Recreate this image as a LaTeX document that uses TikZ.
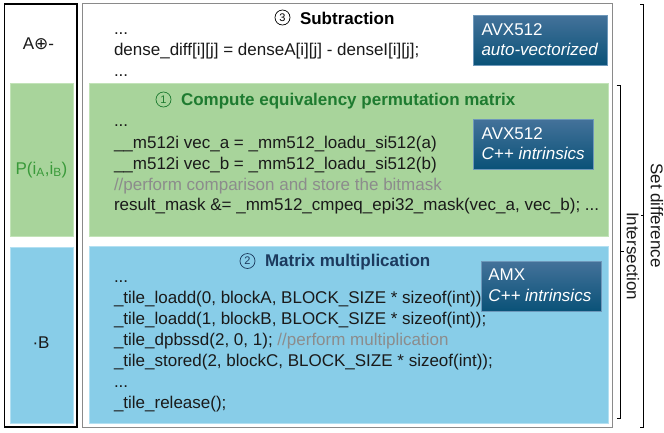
\documentclass[tikz,border=0pt]{standalone}
\usepackage{fontspec}
\setmainfont{Liberation Sans}
\newfontfamily\symfont{DejaVu Sans}
\usetikzlibrary{shadows}
\definecolor{gfill}{HTML}{A8D49B}
\definecolor{bfill}{HTML}{88CDE8}
\definecolor{gedge}{HTML}{C2E3B8}
\definecolor{bedge}{HTML}{B3E0F2}
\definecolor{ghead}{HTML}{1E7B30}
\definecolor{bhead}{HTML}{1C3A5E}
\definecolor{plabel}{HTML}{3A9A3A}
\definecolor{cmt}{HTML}{8C8C8C}
\definecolor{boxtop}{HTML}{44729A}
\definecolor{boxbot}{HTML}{0A5278}
\definecolor{boxedge}{HTML}{6E98BA}
\definecolor{panelgray}{HTML}{8A8A8A}
\definecolor{codetext}{HTML}{1A1A1A}
\begin{document}
\begin{tikzpicture}[x=1pt,y=-1pt,
  every node/.style={inner sep=0pt, outer sep=0pt, font=\fontsize{17}{20}\selectfont},
  code/.style={anchor=base west, text=codetext},
  comment/.style={anchor=base west, text=cmt},
  head/.style={anchor=base west, font=\fontsize{17}{20}\selectfont\bfseries},
  numcirc/.style={circle, draw, line width=0.7pt, minimum size=15pt, font=\fontsize{11}{11}\selectfont},
  lblbox/.style={draw=boxedge, line width=0.6pt, top color=boxtop, bottom color=boxbot,
    drop shadow={shadow xshift=1.3pt, shadow yshift=-1.3pt, opacity=0.35},
    anchor=north west, minimum width=#1, minimum height=50pt},
  lbltext/.style={anchor=base west, text=white},
  brk/.style={line width=1pt, black},
  sidelbl/.style={anchor=base, text=codetext}
]
\useasboundingbox (0,0) rectangle (664,432);
\fill[white] (0,0) rectangle (664,432);

% left panel
\draw[line width=1.2pt, black] (4.5,4) rectangle (77,427);
\fill[gfill] (10,83) rectangle (73,236);
\fill[bfill] (10,247) rectangle (73,423);
\draw[gedge, line width=0.6pt] (10,83) rectangle (73,236);
\draw[bedge, line width=0.6pt] (10,247) rectangle (73,423);
\node[sidelbl] (la) at (38.5,49) {A{\symfont ⊕}-};
\node[sidelbl, text=plabel] (lp) at (41.5,174) {P(i\textsubscript{A},i\textsubscript{B})};
\node[sidelbl] (lb) at (41,348) {·B};

% main panel
\draw[line width=1pt, panelgray] (82.3,3.5) rectangle (612.5,427);
\fill[gfill] (89,83) rectangle (608,236);
\fill[bfill] (89,246) rectangle (608,423);
\draw[gedge, line width=0.6pt] (89,83) rectangle (608,236);
\draw[bedge, line width=0.6pt] (89,246) rectangle (608,423);

% section 3
\node[numcirc, draw=black, text=black] (c3) at (282.5,17.5) {3};
\node[head, text=black] (h3) at (300,24) {Subtraction};
\node[code] (s1) at (114,34.5) {...};
\node[code] (s2) at (114,55) {dense\_diff[i][j] = denseA[i][j] - denseI[i][j];};
\node[code] (s3) at (114,76) {...};
\node[lblbox=134pt] (b3) at (473,15) {};
\node[lbltext] (b3a) at (481.5,35) {AVX512};
\node[lbltext, font=\fontsize{17}{20}\selectfont\itshape] (b3b) at (481.5,55.5) {auto-vectorized};

% section 1
\node[numcirc, draw=ghead, text=ghead] (c1) at (163.5,99.5) {1};
\node[head, text=ghead] (h1) at (181,105) {Compute equivalency permutation matrix};
\node[code] (g1) at (114,126) {...};
\node[code] (g2) at (114,148) {\_\_m512i vec\_a = \_mm512\_loadu\_si512(a)};
\node[code] (g3) at (114,169) {\_\_m512i vec\_b = \_mm512\_loadu\_si512(b)};
\node[comment] (g4) at (114,190) {//perform comparison and store the bitmask};
\node[code] (g5) at (114,210.5) {result\_mask \&= \_mm512\_cmpeq\_epi32\_mask(vec\_a, vec\_b); ...};
\node[lblbox=120pt] (b1) at (473,119) {};
\node[lbltext] (b1a) at (481.7,139.3) {AVX512};
\node[lbltext, font=\fontsize{17}{20}\selectfont\itshape] (b1b) at (481.7,159.5) {C++ intrinsics};

% section 2
\node[numcirc, draw=bhead, text=bhead] (c2) at (247.5,261) {2};
\node[head, text=bhead] (h2) at (265,266) {Matrix multiplication};
\node[code] (m1) at (114,282) {...};
\node[code] (m2) at (114,303.5) {\_tile\_loadd(0, blockA, BLOCK\_SIZE * sizeof(int));};
\node[code] (m3) at (114,324.5) {\_tile\_loadd(1, blockB, BLOCK\_SIZE * sizeof(int));};
\node[code] (m4) at (114,345.5) {\_tile\_dpbssd(2, 0, 1); \textcolor{cmt}{//perform multiplication}};
\node[code] (m5) at (114,366.5) {\_tile\_stored(2, blockC, BLOCK\_SIZE * sizeof(int));};
\node[code] (m6) at (114,387) {...};
\node[code] (m7) at (114,408) {\_tile\_release();};
\node[lblbox=120pt] (b2) at (481,261) {};
\node[lbltext] (b2a) at (488.3,280.7) {AMX};
\node[lbltext, font=\fontsize{17}{20}\selectfont\itshape] (b2b) at (488.3,301.7) {C++ intrinsics};

% brackets
\draw[brk] (616.5,85) -- (620.5,85) -- (620.5,418) -- (616.5,418);
\draw[brk] (620.5,251) -- (623.5,251);
\draw[brk] (640,4) -- (643.7,4) -- (643.7,427) -- (640,427);
\draw[brk] (643.7,215.5) -- (640.5,215.5);
\node[rotate=-90, text=codetext] (li) at (633,256) {Intersection};
\node[rotate=-90, text=codetext] (ls) at (657,215.5) {Set difference};
\end{tikzpicture}
\end{document}
